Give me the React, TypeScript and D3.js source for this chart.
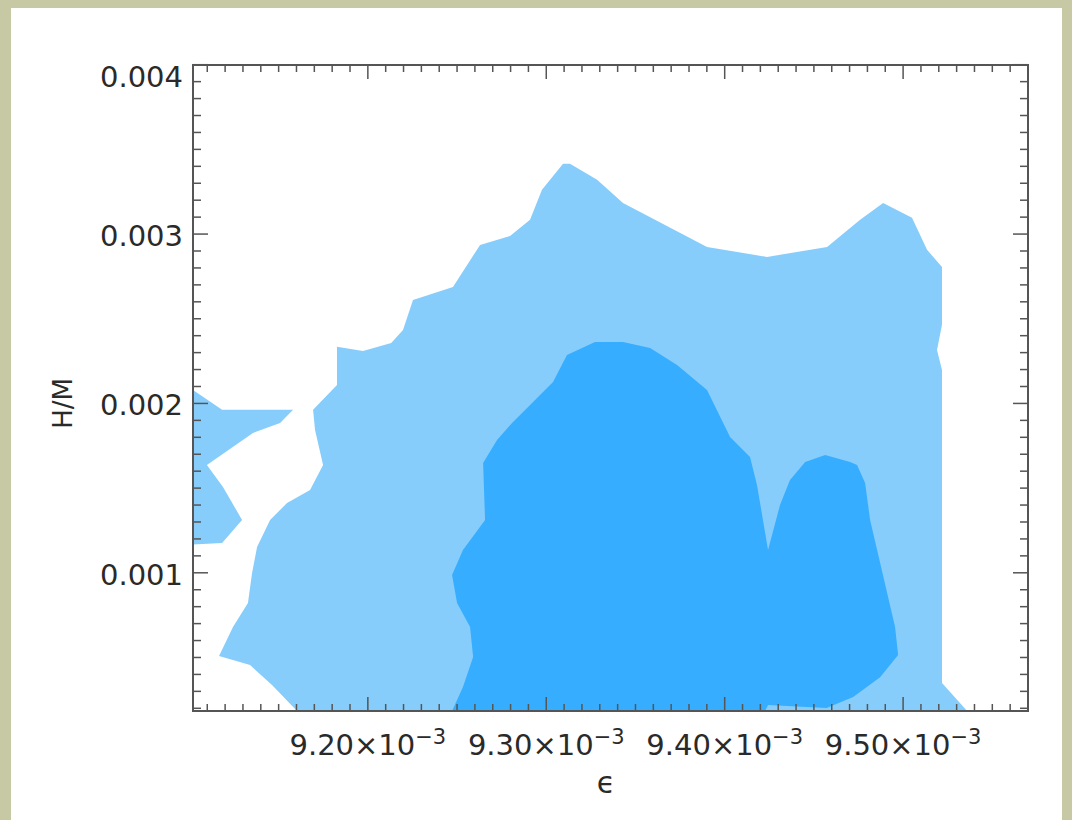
import React from 'react'
import * as d3 from 'd3'

// contour outlines: [epsilon (x10^-3), H/M]
const outerLevel: [number, number][] = [
  [9.1603, 0.000184], [9.5359, 0.000184], [9.5218, 0.000349], [9.5218, 0.002198],
  [9.519, 0.002316], [9.5218, 0.002464], [9.5218, 0.002806], [9.5134, 0.002907],
  [9.505, 0.003096], [9.4888, 0.003184], [9.4759, 0.003084], [9.4574, 0.002924],
  [9.4237, 0.002865], [9.3901, 0.002924], [9.343, 0.003184], [9.3285, 0.00332],
  [9.3133, 0.003415], [9.3094, 0.003415], [9.2976, 0.003261], [9.2909, 0.003084],
  [9.2797, 0.002989], [9.2629, 0.002936], [9.2477, 0.002688], [9.2253, 0.002611],
  [9.2197, 0.002434], [9.2131, 0.002357], [9.1973, 0.00231], [9.1827, 0.002334],
  [9.1827, 0.002109], [9.1693, 0.001962], [9.1704, 0.001843], [9.1749, 0.001637],
  [9.1676, 0.001489], [9.1547, 0.001412], [9.1452, 0.001312], [9.1379, 0.001152],
  [9.1351, 0.000999], [9.1328, 0.000822], [9.1244, 0.00068], [9.1166, 0.000509],
  [9.134, 0.000455], [9.1463, 0.000337],
]

const outerIsland: [number, number][] = [
  [9.098, 0.002109], [9.1183, 0.001962], [9.1581, 0.001962], [9.1508, 0.001885],
  [9.1356, 0.001826], [9.1098, 0.001637], [9.1188, 0.001507], [9.1295, 0.001312],
  [9.1183, 0.001176], [9.098, 0.001164],
]

const innerLevel: [number, number][] = [
  [9.2472, 0.000184], [9.2533, 0.000325], [9.259, 0.000503], [9.2573, 0.00068],
  [9.25, 0.000822], [9.2472, 0.000987], [9.2533, 0.001135], [9.2657, 0.001312],
  [9.2646, 0.001649], [9.2724, 0.001784], [9.2808, 0.001885], [9.2926, 0.002009],
  [9.3038, 0.002127], [9.3116, 0.002286], [9.3273, 0.002363], [9.343, 0.002363],
  [9.3582, 0.002328], [9.3733, 0.002227], [9.3901, 0.00208], [9.403, 0.001802],
  [9.4142, 0.001684], [9.4181, 0.001519], [9.4243, 0.001135], [9.431, 0.0014],
  [9.4366, 0.001548], [9.4451, 0.001654], [9.4563, 0.001696], [9.4703, 0.001654],
  [9.4742, 0.001637], [9.4787, 0.00153], [9.4815, 0.001312], [9.4955, 0.00068],
  [9.4972, 0.000514], [9.4871, 0.000384], [9.472, 0.000266], [9.4571, 0.000201],
  [9.4243, 0.000219], [9.4226, 0.000184],
]

const xMajor = [9.2, 9.3, 9.4, 9.5]
const yMajor = [0.001, 0.002, 0.003, 0.004]

const W = 1072
const H = 820
const left = 193
const right = 1028
const top = 65
const bottom = 711

const font = 'DejaVu Sans, Verdana, sans-serif'
const axisColor = '#555'

export default function App() {
  const x = d3.scaleLinear().domain([9.102, 9.57]).range([left, right])
  const y = d3.scaleLinear().domain([0.000184, 0.004]).range([bottom, top - 0.3])

  const line = d3
    .line<[number, number]>()
    .x((d) => x(d[0]))
    .y((d) => y(d[1]))
    .curve(d3.curveLinearClosed)

  // minor ticks every 0.01e-3 in x and 0.0001 in y
  const xMinor = d3.range(911, 958).map((v) => v / 100)
  const yMinor = d3.range(2, 41).map((v) => v / 10000)
  const isMajorX = (v: number) => xMajor.some((m) => Math.abs(m - v) < 1e-6)
  const isMajorY = (v: number) => yMajor.some((m) => Math.abs(m - v) < 1e-9)

  return (
    <svg
      width={W}
      height={H}
      style={{ position: 'absolute', left: 0, top: 0 }}
      fontFamily={font}
    >
      <rect x={0} y={0} width={W} height={H} fill="#c7c9a5" />
      <rect x={11} y={8} width={1051} height={H - 8} fill="#fff" />

      <defs>
        <clipPath id="plotArea">
          <rect x={left} y={top} width={right - left} height={bottom - top} />
        </clipPath>
      </defs>

      <g clipPath="url(#plotArea)">
        <path d={line(outerLevel) || ''} fill="#87cdfb" />
        <path d={line(outerIsland) || ''} fill="#87cdfb" />
        <path d={line(innerLevel) || ''} fill="#36adfe" />
      </g>

      {/* ticks on all four sides */}
      <g stroke={axisColor} strokeWidth={1.5}>
        {xMinor.map((v) => {
          const len = isMajorX(v) ? 14 : 7
          return (
            <g key={'x' + v}>
              <line x1={x(v)} x2={x(v)} y1={bottom} y2={bottom - len} />
              <line x1={x(v)} x2={x(v)} y1={top} y2={top + len} />
            </g>
          )
        })}
        {yMinor.map((v) => {
          const len = isMajorY(v) ? 15 : 8
          return (
            <g key={'y' + v}>
              <line x1={left} x2={left + len} y1={y(v)} y2={y(v)} />
              <line x1={right} x2={right - len} y1={y(v)} y2={y(v)} />
            </g>
          )
        })}
        <rect
          x={left}
          y={top}
          width={right - left}
          height={bottom - top}
          fill="none"
          strokeWidth={2}
        />
      </g>

      {/* x tick labels */}
      {xMajor.map((v) => (
        <text
          key={'xl' + v}
          x={x(v)}
          y={755}
          textAnchor="middle"
          fontSize={29}
          fill="#2a2a2a"
        >
          {v.toFixed(2)}×10
          <tspan fontSize={21} dy={-11}>
            −3
          </tspan>
        </text>
      ))}

      {/* y tick labels */}
      {yMajor.map((v) => (
        <text
          key={'yl' + v}
          x={183}
          y={Math.max(y(v) + 12, top + 22)}
          textAnchor="end"
          fontSize={29}
          fill="#2a2a2a"
        >
          {v.toFixed(3)}
        </text>
      ))}

      <text x={606} y={793} textAnchor="middle" fontSize={30} fill="#2a2a2a">
        ϵ
      </text>
      <text
        transform={`translate(72,${y(0.002)}) rotate(-90)`}
        textAnchor="middle"
        fontSize={26}
        fill="#2a2a2a"
      >
        H/M
      </text>
    </svg>
  )
}
